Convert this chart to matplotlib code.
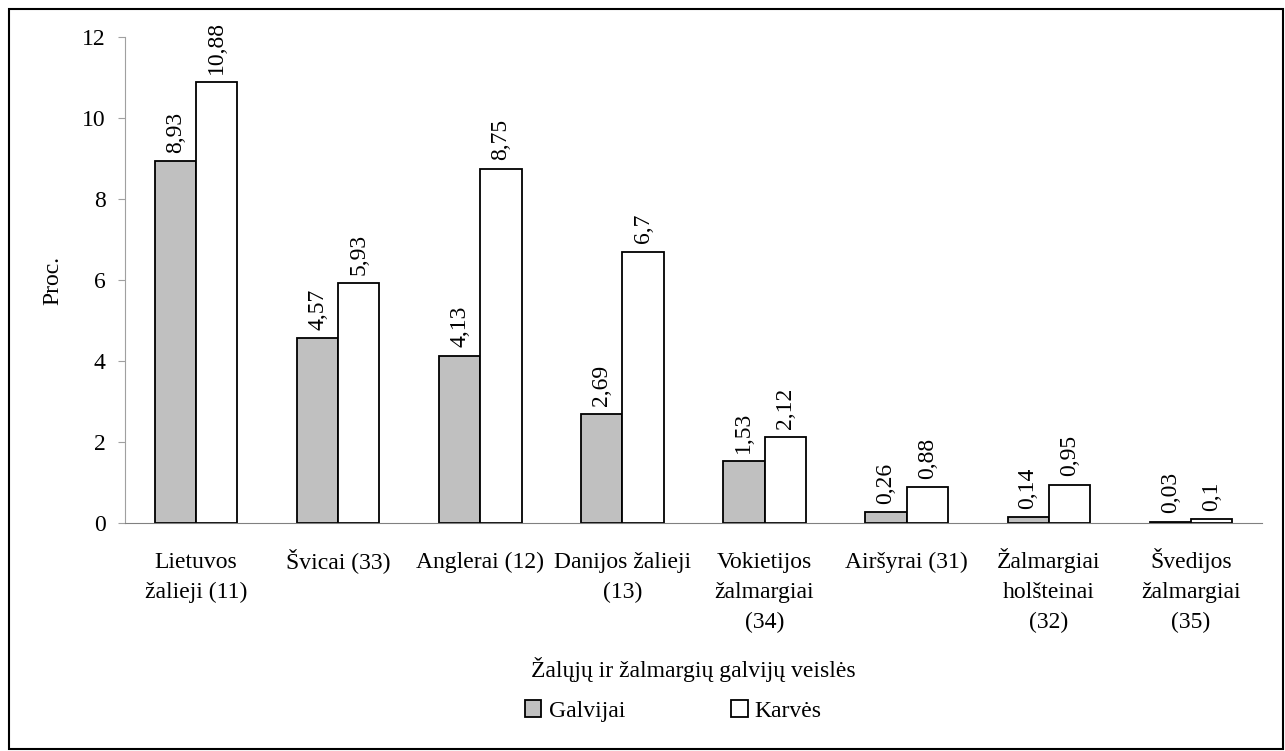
import matplotlib.pyplot as plt
import numpy as np
from matplotlib.patches import Rectangle
from matplotlib.transforms import offset_copy

categories = ["Lietuvos\nžalieji (11)", "Švicai (33)", "Anglerai (12)", "Danijos žalieji\n(13)",
              "Vokietijos\nžalmargiai\n(34)", "Airšyrai (31)", "Žalmargiai\nholšteinai\n(32)",
              "Švedijos\nžalmargiai\n(35)"]
galvijai = [8.93, 4.57, 4.13, 2.69, 1.53, 0.26, 0.14, 0.03]
karves = [10.88, 5.93, 8.75, 6.7, 2.12, 0.88, 0.95, 0.1]
yticks = [0, 2, 4, 6, 8, 10, 12]

plt.rcParams['font.family'] = ['Liberation Serif', 'DejaVu Serif']
fs = 17

fig = plt.figure(figsize=(12.85, 7.51), dpi=100)
ax = fig.add_axes([0.0973, 0.3036, 0.8847, 0.6471])
fig.patches.append(Rectangle((9 / 1285, 2 / 751), 1274 / 1285, 740 / 751, transform=fig.transFigure,
                             fill=False, edgecolor='black', linewidth=1.5))

x = np.arange(len(categories))
w = 0.29
b1 = ax.bar(x - w / 2, galvijai, w, color='#c0c0c0', edgecolor='black', linewidth=1.3, label='Galvijai')
b2 = ax.bar(x + w / 2, karves, w, color='white', edgecolor='black', linewidth=1.3, label='Karvės')

for bars, vals in [(b1, galvijai), (b2, karves)]:
    for bar, v in zip(bars, vals):
        ax.annotate(f"{v:g}".replace('.', ','), (bar.get_x() + bar.get_width() / 2, bar.get_height()),
                    xytext=(0, 6), textcoords='offset points', rotation=90,
                    ha='center', va='bottom', fontsize=fs)

ax.set_xlim(-0.5, len(categories) - 0.5)
ax.set_ylim(0, 12)
ax.set_yticks(yticks)
ax.set_xticks([])

# category labels: each line on its own baseline so accented capitals don't shift lines
for xi, cat in zip(x, categories):
    for i, line in enumerate(cat.split('\n')):
        tr = offset_copy(ax.get_xaxis_transform(), fig=fig, x=0, y=-(45 + 30 * i), units='dots')
        ax.text(xi, 0, line, transform=tr, ha='center', va='baseline', fontsize=fs)

ax.tick_params(axis='y', labelsize=fs, color='#a0a0a0', length=5, pad=9)
for s in ['top', 'right']:
    ax.spines[s].set_visible(False)
ax.spines['left'].set_color('#a0a0a0')
ax.spines['bottom'].set_color('#808080')
ax.set_ylabel('Proc.', fontsize=fs)
ax.yaxis.set_label_coords(-0.0545, 0.5)
ax.set_xlabel('Žalųjų ir žalmargių galvijų veislės', fontsize=fs, va='baseline')
ax.xaxis.set_label_coords(0.5, -0.317)

fig.legend(loc='center', bbox_to_anchor=(0.524, 0.0533), ncol=2, frameon=False, fontsize=fs,
           handlelength=0.7, handleheight=0.7, handletextpad=0.3, columnspacing=4.5)

fig.savefig('out.png', dpi=100)
